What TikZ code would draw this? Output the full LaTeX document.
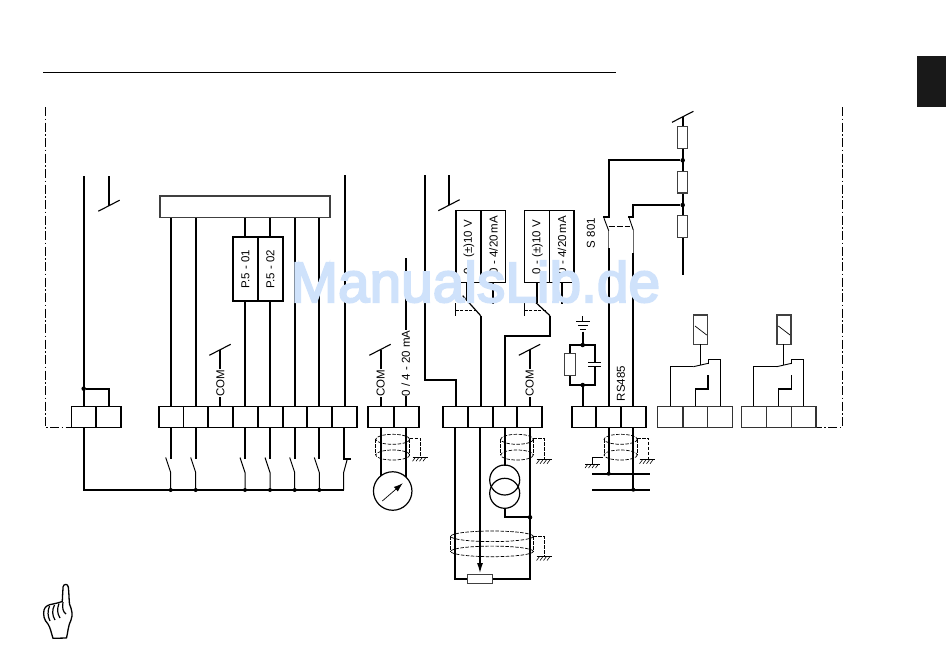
\documentclass[tikz,border=0pt]{standalone}
\usepackage{fontspec}
\setmainfont{Liberation Sans}
\newfontfamily\wmfont[FakeBold=3.5]{Liberation Sans}
\usetikzlibrary{arrows.meta}
\definecolor{wmblue}{RGB}{207,226,251}
\tikzset{
 x=1pt,y=-1pt,
 thick line/.style={line width=1.9pt,draw=black},
 thin line/.style={line width=0.8pt,draw=black},
 term/.style={line width=1.9pt,draw=black,fill=white},
 termlight/.style={line width=1.5pt,draw=black!80,fill=white},
 res/.style={line width=1.2pt,draw=black!75,fill=white},
 shield/.style={line width=0.7pt,draw=black,dash pattern=on 3.5pt off 1.5pt},
 dashb/.style={line width=0.8pt,draw=black,dash pattern=on 9pt off 2.5pt on 1.5pt off 2.5pt},
 lab/.style={rotate=90,font=\fontsize{11.5}{12}\selectfont,inner sep=0pt},
 dotn/.style={circle,fill=black,inner sep=0pt,minimum size=4.5pt},
 wm/.style={font=\wmfont\fontsize{56.8}{60}\selectfont,text=wmblue,inner sep=0pt,anchor=base west},
}
\newcommand{\cells}[5]{%
 \draw[#4] (#1,406.5) rectangle (#2,427.5);
 \foreach \d in {#5} \draw[#4] (\d,406.5) -- (\d,427.5);
}
\newcommand{\slashat}[2]{\draw[line width=1.1pt] (#1-10.7,#2+5.5) -- (#1+10.7,#2-5.5);}
\newcommand{\gnd}[2]{%
 \draw[line width=0.7pt] (#1-7.5,#2) -- (#1+7.5,#2);
 \foreach \k in {-6,-2.5,1,4.5} \draw[line width=0.6pt] (#1+\k+1.5,#2) -- (#1+\k-1.5,#2+4);
}
\newcommand{\cyl}[5]{%
 \draw[shield] (#1,#3+#5) -- (#1,#4-#5) (#2,#3+#5) -- (#2,#4-#5);
 \draw[shield] ({(#1+#2)/2},{#3+#5}) ellipse [x radius={(#2-#1)/2},y radius=#5];
 \draw[shield] ({(#1+#2)/2},{#4-#5}) ellipse [x radius={(#2-#1)/2},y radius=#5];
}
\newcommand{\nosw}[1]{%
 \draw[thick line] (#1,427) -- (#1,458.5);
 \draw[line width=1pt] (#1-5,457.5) -- (#1,472.5) -- (#1,490);
 \node[dotn,minimum size=4pt] at (#1,490) {};
}
\newcommand{\relay}[1]{%
 \begin{scope}[xshift=#1]
 \draw[res,line width=1.5pt] (693.7,315) rectangle (707.7,344.3);
 \draw[line width=0.7pt] (695,326) -- (706.7,335);
 \draw[line width=0.7pt] (700.3,344.3) -- (700.3,365);
 \draw[thick line,line width=1.5pt] (670.3,406) -- (670.3,366.7) -- (693.3,366.7);
 \draw[line width=0.9pt] (693.3,366.7) -- (708.3,363.3);
 \draw[thick line,line width=1.6pt] (708.3,364) -- (708.3,359.3) -- (720.3,359.3) -- (720.3,406);
 \draw[thick line,line width=1.6pt] (695.3,406) -- (695.3,389) -- (708,389) -- (708,375.3);
 \end{scope}
}
\begin{document}
\begin{tikzpicture}
\useasboundingbox (0,0) rectangle (950,670);
\fill[white] (0,0) rectangle (950,670);
% header
\draw[line width=0.9pt] (43,72.5) -- (616,72.5);
\fill[black!90] (917,56) rectangle (946,107);
% cabinet outline
\draw[dashb] (45,107) -- (45,427.5) -- (71,427.5);
\draw[dashb] (842,107) -- (842,427.5) -- (817,427.5);
% left power lines
\coordinate (a1) at (83.7,176); \coordinate (a2) at (109,176);
\draw[thick line] (a1) -- (83.7,490) -- (344,490);
\draw[thick line] (a2) -- (109,205.7);
\slashat{109}{205.7}
\node[dotn] (d1) at (83.7,388.7) {};
\draw[thick line] (d1) -- (109,388.7) -- (109,407);
% digital input box and lines
\foreach \x in {170.7,195.7,294.7,319.3} \draw[thick line] (\x,217) -- (\x,407);
\foreach \x in {245,270} \draw[thick line] (\x,217) -- (\x,407);
\draw[thick line] (345.3,175) -- (345.3,407);
\draw[res,line width=1.3pt] (160,196) rectangle (330,217.7);
\draw[term] (233,237.3) rectangle (282.7,301);
\draw[term] (258,237.3) -- (258,301);
\node[lab] at (245.3,269) {P.5 - 01};
\node[lab] at (270.3,269) {P.5 - 02};
% terminals
\cells{71.5}{121}{}{term}{96}
\cells{158.7}{357}{}{term}{183.5,208.3,233,257.8,282.6,307.4,332.2}
\cells{368.3}{419}{}{term}{393.7}
\cells{442.7}{542.3}{}{term}{467.7,492.7,517.3}
\cells{571.7}{646}{}{term}{596.3,621.3}
\cells{657.7}{732.3}{}{termlight}{683,707.7}
\cells{741.7}{816}{}{termlight}{766.7,791.7}
% COM 1
\node[lab] (c1) at (220.3,383) {COM};
\draw[thick line] (220.3,406.5) -- (c1.west);
\draw[thick line] (c1.east) -- (220.3,350);
\slashat{220}{349.8}
% inputs
\foreach \x in {170.7,195.7,245,270,294.7,319.3} \nosw{\x}
\draw[thick line] (343.7,427) -- (343.7,459) -- (350.7,459);
\draw[line width=1pt] (347.3,459) -- (343.5,473) -- (343.5,490);
% analog out
\node[lab] (c2) at (380.7,383) {COM};
\draw[thick line] (380.7,406.5) -- (c2.west);
\draw[thick line] (c2.east) -- (380.7,350);
\slashat{380}{349.8}
\node[lab] (c3) at (405.7,363.3) {0 / 4 - 20 mA};
\draw[thick line] (405.7,258) -- (c3.east);
\draw[thick line] (405.7,406.5) -- (c3.west);
\draw[thick line] (380.7,427.5) -- (380.7,476);
\draw[thick line] (405.7,427.5) -- (405.7,478);
\cyl{375.7}{409.7}{434.3}{460}{5}
\draw[shield] (409.7,438.3) -- (420.7,438.3) -- (420.7,457.3);
\gnd{420}{457.3}
\node[circle,draw=black,line width=1.2pt,fill=white,minimum size=38.5pt,inner sep=0pt] (meter) at (392.7,491) {};
\draw[line width=0.7pt,-{Latex[length=9pt,width=6pt]}] (382.3,501) -- (402.7,483.3);
% analog in
\draw[thick line] (424.7,175) -- (424.7,380.3) -- (456,380.3) -- (456,407);
\draw[thick line] (449,175) -- (449,205);
\slashat{449}{205.2}
\foreach \a/\b in {456/505.7,524.7/574} {
 \draw[term,line width=1.5pt] (\a,210.3) rectangle (\b,282.3);
 \draw[term,line width=1.5pt] ({(\a+\b)/2+0.3},210.3) -- ({(\a+\b)/2+0.3},282.3);
}
\node[lab] at (469,247) {0 - (±)10 V};
\node[lab] at (493.5,245) {0 - 4/20\,mA};
\node[lab] at (537.5,247) {0 - (±)10 V};
\node[lab] at (562,245) {0 - 4/20\,mA};
% switches of analog in
\draw[thick line] (467,282.3) -- (467,300);
\draw[thick line] (493,282.3) -- (493,304);
\draw[line width=1.2pt] (462.7,295.7) -- (480.7,315.7);
\draw[thick line] (480.7,315.7) -- (480.7,407);
\draw[line width=0.7pt] (455.7,303) -- (455.7,316);
\draw[line width=0.7pt,dash pattern=on 3pt off 1.5pt] (455.7,310) -- (476,310);
\draw[thick line] (537,282.3) -- (537,302.7);
\draw[line width=1.2pt] (536,302.7) -- (550,315.7);
\draw[thick line] (561.7,282.3) -- (561.7,304);
\draw[thick line] (550,315.7) -- (550,335.7) -- (504.7,335.7) -- (504.7,407);
\draw[line width=0.7pt] (524.7,303) -- (524.7,316);
\draw[line width=0.7pt,dash pattern=on 3pt off 1.5pt] (524.7,310) -- (546,310);
% COM analog in
\node[lab] (c4) at (529.7,383) {COM};
\draw[thick line] (529.7,406.5) -- (c4.west);
\draw[thick line] (c4.east) -- (529.7,350);
\slashat{529.5}{349.8}
% lower analog wiring
\draw[thick line] (455.3,427.5) -- (455.3,579) -- (467.3,579);
\draw[thick line] (492.3,579) -- (530,579) -- (530,427.5);
\draw[thick line,-{Latex[length=11pt,width=6pt]}] (480,427.5) -- (480,574);
\draw[res,line width=1pt] (467.3,574) rectangle (492.3,583.3);
\draw[thick line] (505,427.5) -- (505,466);
\cyl{500.7}{533.3}{434.3}{460}{5}
\draw[shield] (533.3,438.3) -- (544.3,438.3) -- (544.3,459.5);
\gnd{544}{459.8}
\draw[line width=1.2pt] (504.7,480) circle [radius=15];
\draw[line width=1.2pt] (504.7,493.3) circle [radius=15];
\node[dotn] (d2) at (530,517.3) {};
\draw[thick line] (504.7,508.3) -- (504.7,517.3) -- (d2);
\cyl{450.7}{533.3}{531}{556.7}{5.3}
\draw[shield] (533.3,536) -- (544.3,536) -- (544.3,556);
\gnd{544}{556.5}
% RC + ground
\draw[line width=1pt] (576,321.7) -- (589.5,321.7);
\draw[line width=0.9pt] (578,325.7) -- (587.5,325.7);
\draw[line width=0.9pt] (580,329.3) -- (585.5,329.3);
\draw[line width=0.7pt] (582.7,316) -- (582.7,321.7);
\draw[thick line] (582.7,331.7) -- (582.7,345);
\draw[thick line] (570,345) rectangle (595,385);
\node[dotn] at (582.7,345) {};
\node[dotn] (d3) at (582.7,385) {};
\draw[thick line] (d3) -- (582.7,406.5);
\draw[res] (564.7,353.3) rectangle (575.7,375.3);
\fill[white] (590,362.7) rectangle (600,366);
\draw[line width=0.9pt] (588.3,362.7) -- (601,362.7) (588.3,366) -- (601,366);
% RS485
\node[dotn] (n1) at (682.7,160.3) {};
\node[dotn] (n2) at (682.7,205) {};
\draw[thick line] (n1) -- (608.7,160.3) -- (608.7,217.3) -- (603.3,217.3);
\draw[thick line] (n2) -- (633.3,205) -- (633.3,217.3) -- (628,217.3);
\draw[line width=0.9pt] (604,218.3) -- (608.7,230.7);
\draw[line width=0.9pt] (629.3,218.3) -- (633.3,230);
\draw[line width=0.5pt,black!60] (608.7,230.7) -- (608.7,248);
\draw[line width=0.5pt,black!60] (633.3,230) -- (633.3,253);
\draw[line width=0.7pt,dash pattern=on 6pt off 2pt] (608.7,226.7) -- (629.5,226.7);
\draw[thick line] (608.7,248) -- (608.7,406.5);
\draw[thick line] (633.3,253) -- (633.3,406.5);
\node[lab] at (591,233) {S 801};
\node[lab] at (621,383.7) {RS485};
\draw[thick line] (682.7,116.7) -- (682.7,275);
\slashat{682.7}{116.8}
\draw[res] (677.7,126.7) rectangle (687.7,148.3);
\draw[res] (677.7,171.3) rectangle (687.7,193);
\draw[res] (677.7,215.7) rectangle (687.7,237.3);
% bus
\draw[thick line] (592,473.7) -- (650,473.7);
\draw[thick line] (592,489.7) -- (650,489.7);
\node[dotn,minimum size=4pt] (b1) at (608.7,473.7) {};
\node[dotn,minimum size=4pt] (b2) at (633.3,489.7) {};
\draw[thick line] (608.7,427.5) -- (b1);
\draw[thick line] (633.3,427.5) -- (b2);
\cyl{604}{637.3}{434.3}{460}{5}
\draw[shield] (637.3,438.3) -- (648.7,438.3) -- (648.7,459.5);
\gnd{647}{459.8}
\draw[line width=0.7pt] (603.3,457.3) -- (592.7,457.3) -- (592.7,464);
\gnd{592.5}{464}
% relays
\relay{0}
\relay{83.3}
% hand
\draw[line width=1.3pt,fill=white,line join=round]
 (62.3,601.5) .. controls (62.5,595) and (63,590) .. (63,587)
 .. controls (63.5,583.5) and (68,583.5) .. (68.3,587)
 .. controls (69,592) and (69,600) .. (69.5,604)
 .. controls (72,610) and (73,615) .. (71,620)
 .. controls (68,626) and (68,632) .. (66.5,638)
 -- (53,638.3)
 .. controls (51,632) and (50.5,628) .. (48,624)
 .. controls (44,620) and (43,615) .. (44,610)
 .. controls (45,606) and (49,604.5) .. (53,604)
 .. controls (56,603) and (59,603) .. (62.3,601.5) -- cycle;
\draw[line width=1.2pt] (49.5,606) .. controls (47.5,611) and (47.5,616) .. (50,621)
 (54.5,605) .. controls (52,610) and (52,615) .. (55,620)
 (59,603.5) .. controls (57,609) and (57,613) .. (60,618)
 (63,602) .. controls (62,608) and (63,612) .. (66,614);
% watermark
\node[wm] (wmark) at (290.5,302) {ManualsLib.de};
\end{tikzpicture}
\end{document}
